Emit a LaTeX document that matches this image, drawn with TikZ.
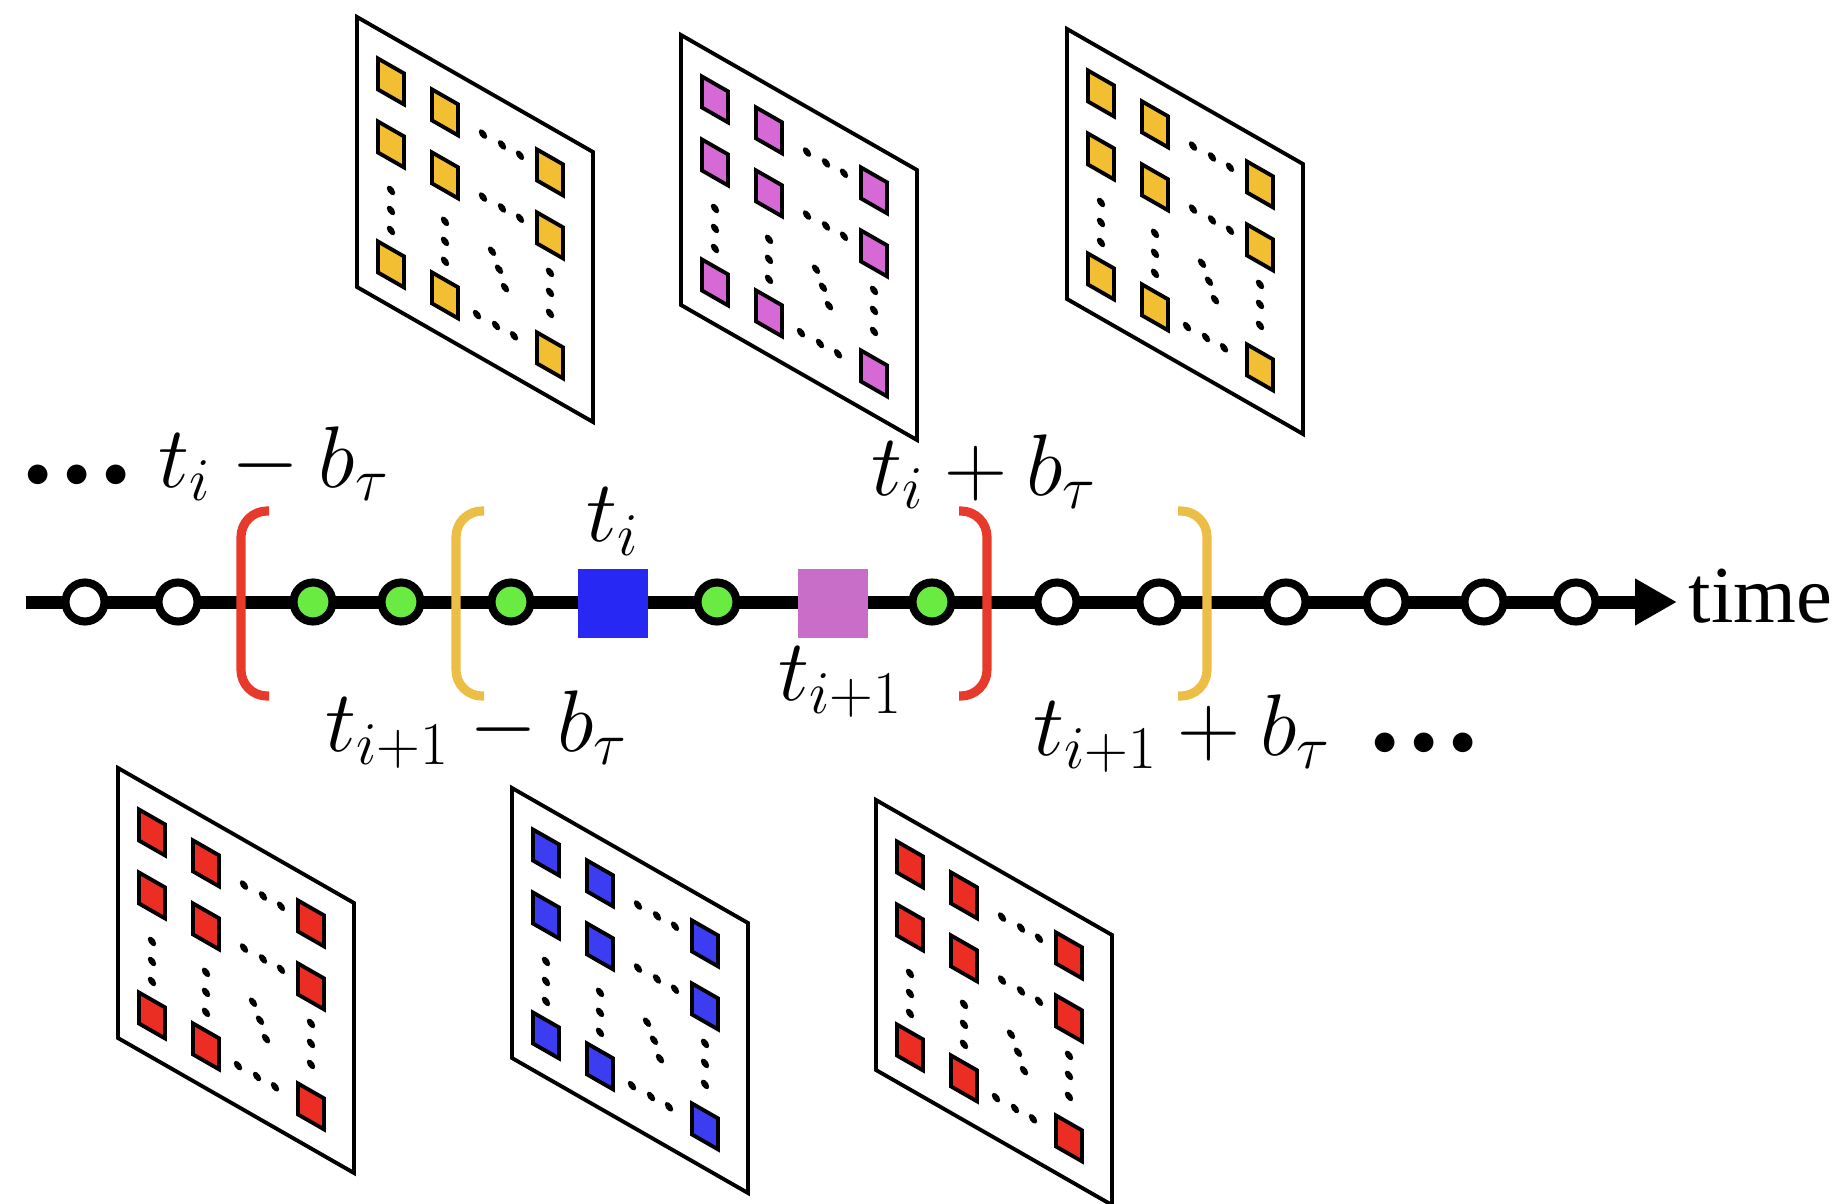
\documentclass[tikz,border=0pt]{standalone}
\usepackage{fontspec}
\newfontfamily\timefont{Liberation Serif}
\usetikzlibrary{arrows.meta,positioning}

\definecolor{bracketred}{RGB}{232,58,42}
\definecolor{bracketyellow}{RGB}{236,190,70}
\definecolor{dotgreen}{RGB}{105,235,65}
\definecolor{keyblue}{RGB}{40,40,245}
\definecolor{keypurple}{RGB}{200,110,200}
\definecolor{cellyellow}{RGB}{242,190,50}
\definecolor{cellpurple}{RGB}{215,105,215}
\definecolor{cellred}{RGB}{235,45,35}
\definecolor{cellblue}{RGB}{60,60,240}

\tikzset{
  idle/.style={circle, draw, line width=2.3pt, fill=white, minimum size=0.39cm, inner sep=0pt},
  picked/.style={idle, fill=dotgreen},
  keyframe/.style={rectangle, minimum width=0.70cm, minimum height=0.69cm, inner sep=0pt},
  cell/.style={line width=1.1pt},
  brace/.style={line width=2.6pt, rounded corners=0.26cm},
  lbl/.style={font=\fontsize{24}{28}\selectfont, inner sep=0pt},
}

% three big dots
\newcommand{\tdots}{{\fontsize{15}{15}\selectfont$\bullet$\hspace{3.9pt}$\bullet$\hspace{3.9pt}$\bullet$}}

% slanted frame with its grid of cells
\newcommand{\cellpanel}[3]{%
  \begin{scope}[shift={(#1,#2)}, yslant=-0.572]
    \draw[line width=1.1pt, fill=white] (0,0) rectangle (2.36,-2.70);
    \foreach \cx/\cy in {0.34/-0.45, 0.88/-0.45, 1.93/-0.45,
                         0.34/-1.08, 0.88/-1.08, 1.93/-1.08,
                         0.34/-2.28, 0.88/-2.28, 1.93/-2.28}
      \draw[cell, fill=#3] (\cx-0.13,\cy+0.155) rectangle (\cx+0.13,\cy-0.155);
    \foreach \dx/\dy in {1.26/-0.45, 1.45/-0.45, 1.63/-0.45,
                         1.26/-1.08, 1.45/-1.08, 1.63/-1.08,
                         0.34/-1.54, 0.34/-1.74, 0.34/-1.94,
                         0.88/-1.54, 0.88/-1.74, 0.88/-1.94,
                         1.35/-1.57, 1.42/-1.71, 1.48/-1.86,
                         1.93/-1.45, 1.93/-1.65, 1.93/-1.86,
                         1.20/-2.29, 1.39/-2.29, 1.57/-2.29}
      \fill (\dx,\dy) circle (0.042);
  \end{scope}}

\begin{document}
\begin{tikzpicture}
        \useasboundingbox (0,0) rectangle (18.32,-12.03);

        % frames
        \cellpanel{3.57}{-0.17}{cellyellow}
        \cellpanel{6.81}{-0.35}{cellpurple}
        \cellpanel{10.67}{-0.29}{cellyellow}
        \cellpanel{1.18}{-7.68}{cellred}
        \cellpanel{5.12}{-7.88}{cellblue}
        \cellpanel{8.76}{-8.00}{cellred}

        % time axis
        \coordinate (start) at (0.26,-6.02);
        \coordinate (end) at (16.77,-6.02);
        \draw[line width=3.7pt, -{Triangle[length=0.42cm,width=0.44cm]}] (start) -- (end);

        \foreach \x [count=\k] in {0.85,1.78,10.57,11.59,12.86,13.86,14.84,15.76}
          \node[idle] (o\k) at (\x,-6.02) {};
        \foreach \x [count=\k] in {3.13,4.01,5.11,7.17,9.32}
          \node[picked] (g\k) at (\x,-6.02) {};
        \node[keyframe, fill=keyblue] (ti) at (6.13,-6.03) {};
        \node[keyframe, fill=keypurple] (tnext) at (8.325,-6.03) {};

        % windows
        \draw[brace, bracketred] (2.69,-5.11) -- (2.41,-5.11) -- (2.41,-6.96) -- (2.69,-6.96);
        \draw[brace, bracketyellow] (4.84,-5.11) -- (4.56,-5.11) -- (4.56,-6.96) -- (4.84,-6.96);
        \draw[brace, bracketred] (9.59,-5.11) -- (9.87,-5.11) -- (9.87,-6.96) -- (9.59,-6.96);
        \draw[brace, bracketyellow] (11.78,-5.11) -- (12.07,-5.11) -- (12.07,-6.96) -- (11.78,-6.96);

        % labels
        \node[lbl, above=0.12cm of ti] (tilbl) {$t_i$};
        \node[lbl, below=0.08cm of tnext, xshift=0.08cm] (tnextlbl) {$t_{i+1}$};
        \node[lbl, anchor=base west] (lowi) at (0.25,-4.87) {\tdots\hspace{8.5pt}$t_i - b_\tau$};
        \node[lbl, anchor=base west] (highi) at (8.71,-4.95) {$t_i + b_\tau$};
        \node[lbl, anchor=base west] (lownext) at (3.25,-7.51) {$t_{i+1} - b_\tau$};
        \node[lbl, anchor=base west] (highnext) at (10.33,-7.55) {$t_{i+1} + b_\tau$\hspace{12pt}\tdots};
        \node[anchor=base west, inner sep=0pt, font=\timefont\fontsize{23}{27}\selectfont] (timelbl) at (16.88,-6.22) {time};

\end{tikzpicture}
\end{document}
